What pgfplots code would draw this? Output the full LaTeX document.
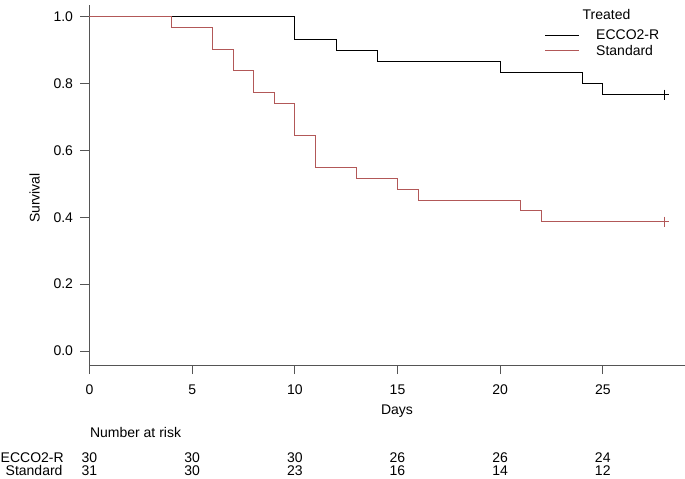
\documentclass[border=0pt]{standalone}
\usepackage{pgfplots}
\pgfplotsset{compat=1.18}
\usepackage{fontspec}
\setmainfont{Liberation Sans}
\definecolor{stdred}{RGB}{178,88,88}
\definecolor{axgray}{RGB}{85,85,85}
\begin{document}
\begin{tikzpicture}[font=\fontsize{14bp}{16bp}\selectfont]
\path[use as bounding box] (-89.5bp,-114bp) rectangle (595.5bp,365bp);
\begin{axis}[
  at={(0,0)}, anchor=south west,
  scale only axis, width=595.5bp, height=360bp,
  xmin=0, xmax=29.0, ymin=-0.042, ymax=1.0349,
  axis x line*=bottom, axis y line*=left,
  axis line style={axgray, line width=0.8pt},
  tick style={axgray, line width=0.8pt},
  tick align=outside, major tick length=9bp,
  xtick={0,5,10,15,20,25},
  ytick={0,0.2,0.4,0.6,0.8,1.0},
  yticklabel style={/pgf/number format/fixed, /pgf/number format/precision=1, /pgf/number format/fixed zerofill, xshift=-4bp},
  xticklabel style={yshift=-7bp},
  /pgf/number format/assume math mode=true,
  ticklabel style={font=\fontsize{14bp}{16bp}\selectfont},
  clip=false,
]
\addplot[const plot, black, line width=0.75pt] coordinates {
 (0,1) (10,0.9333) (12,0.9) (14,0.8667) (20,0.8333) (24,0.8) (25,0.7667) (28,0.7667)};
\addplot[const plot, stdred, line width=0.75pt] coordinates {
 (0,1) (4,0.9677) (6,0.9032) (7,0.8387) (8,0.7742) (9,0.7419) (10,0.6452) (11,0.5484) (13,0.5161) (15,0.4839) (16,0.4516) (21,0.4194) (22,0.3871) (28,0.3871)};
\addplot[only marks, mark=+, mark size=5bp, black, line width=0.6pt] coordinates {(28,0.7667)};
\addplot[only marks, mark=+, mark size=5bp, stdred, line width=0.6pt] coordinates {(28,0.3871)};
\end{axis}
% axis labels
\node[rotate=90] at (-55bp,167bp) {Survival};
\node at (307.5bp,-46bp) {Days};
\node[anchor=west] at (-3bp,-67bp) {Number at risk};
% legend
\node at (517bp,350bp) {Treated};
\draw[black, line width=0.75pt] (455.5bp,330bp) -- (489.5bp,330bp);
\draw[stdred, line width=0.75pt] (455.5bp,315bp) -- (489.5bp,315bp);
\node[anchor=west, inner sep=0pt] at (506.5bp,330bp) {ECCO2-R};
\node[anchor=west, inner sep=0pt] at (506.5bp,315bp) {Standard};
% risk table
\node[anchor=west, inner sep=0pt] at (-89bp,-92.7bp) {ECCO2-R};
\node[anchor=west, inner sep=0pt] at (-84bp,-105.7bp) {Standard};
\foreach \d/\a/\b in {0/30/31, 5/30/30, 10/30/23, 15/26/16, 20/26/14, 25/24/12} {
  \node at (\d*20.53bp,-92.7bp) {\a};
  \node at (\d*20.53bp,-105.7bp) {\b};
}
\end{tikzpicture}
\end{document}
